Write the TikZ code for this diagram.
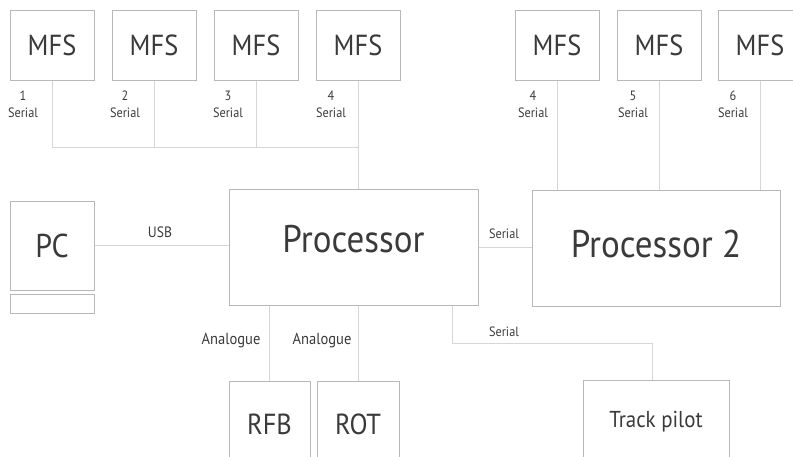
\documentclass[tikz,border=0pt]{standalone}
\usepackage{fontspec}
\setmainfont[FakeStretch=0.91]{PT Sans}
\definecolor{boxline}{HTML}{B8B8B8}
\definecolor{conline}{HTML}{D6D6D6}
\definecolor{txt}{HTML}{3A3A3A}
\begin{document}
\begin{tikzpicture}[x=1pt,y=-1pt,
  blk/.style={draw=boxline,line width=1pt,inner sep=0pt,text=txt,fill=white},
  mfs/.style={blk,minimum width=84pt,minimum height=70pt,font=\fontsize{29}{32}\selectfont},
  big/.style={blk,font=\fontsize{38.5}{42}\selectfont},
  lbl/.style={inner sep=0pt,text=txt,font=\fontsize{13.5}{17}\selectfont,align=center},
  con/.style={draw=conline,line width=1pt}]
\useasboundingbox (0,0) rectangle (793,456);
% top-left MFS
\node[mfs] (m1) at (52,45) {MFS};
\node[mfs] (m2) at (154,45) {MFS};
\node[mfs] (m3) at (256,45) {MFS};
\node[mfs] (m4) at (358,45) {MFS};
% top-right MFS
\node[mfs] (m5) at (557,45) {MFS};
\node[mfs] (m6) at (659,45) {MFS};
\node[mfs] (m7) at (760,45) {MFS};
% processors
\node[big,minimum width=249pt,minimum height=116pt] (proc) at (353.5,247) {\raisebox{-5pt}[0pt][0pt]{Processor}};
\node[big,minimum width=248pt,minimum height=116pt] (p2) at (656,248) {\raisebox{-9pt}[0pt][0pt]{Processor 2}};
% PC
\node[blk,minimum width=84pt,minimum height=89pt,font=\fontsize{33}{36}\selectfont] (pc) at (52,245.5) {PC};
\node[blk,minimum width=84pt,minimum height=19pt] (pcb) at (52,303.5) {};
% bottom
\node[mfs,minimum width=81pt,minimum height=86pt] (rfb) at (269.5,424) {RFB};
\node[mfs,minimum width=82pt,minimum height=86pt] (rot) at (358,424) {ROT};
\node[blk,minimum width=146pt,minimum height=84pt,font=\fontsize{23}{26}\selectfont] (tp) at (656,422) {Track pilot};
% coordinates
\coordinate (bus) at (0,147);
\coordinate (tpk) at (652,343);
\coordinate (tpx) at (452,0);
% connectors
\draw[con] (m1.south) |- (m4.south |- bus);
\draw[con] (m2.south) -- (m2.south |- bus);
\draw[con] (m3.south) -- (m3.south |- bus);
\draw[con] (m4.south) -- (m4.south |- proc.north);
\draw[con] (m5.south) -- (m5.south |- p2.north);
\draw[con] (m6.south) -- (m6.south |- p2.north);
\draw[con] (m7.south) -- (m7.south |- p2.north);
\draw[con] (pc.east) -- (proc.west |- pc.east);
\draw[con] (proc.east) -- (p2.west |- proc.east);
\draw[con] (rfb.north) -- (rfb.north |- proc.south);
\draw[con] (rot.north) -- (rot.north |- proc.south);
\draw[con] (tpx |- proc.south) |- (tpk) -- (tpk |- tp.north);
% labels
\node[lbl] (l1) at (23,104) {1\\Serial};
\node[lbl] (l2) at (125,104) {2\\Serial};
\node[lbl] (l3) at (228,104) {3\\Serial};
\node[lbl] (l4) at (331,104) {4\\Serial};
\node[lbl] (l5) at (533,104) {4\\Serial};
\node[lbl] (l6) at (633,104) {5\\Serial};
\node[lbl] (l7) at (733,104) {6\\Serial};
\node[lbl,font=\fontsize{15}{17}\selectfont] (usb) at (160,232) {USB};
\node[lbl] (s1) at (504,234) {Serial};
\node[lbl,font=\fontsize{16}{18}\selectfont] (a1) at (231,341) {Analogue};
\node[lbl,font=\fontsize{16}{18}\selectfont] (a2) at (322,341) {Analogue};
\node[lbl] (s2) at (504,332) {Serial};
\end{tikzpicture}
\end{document}
